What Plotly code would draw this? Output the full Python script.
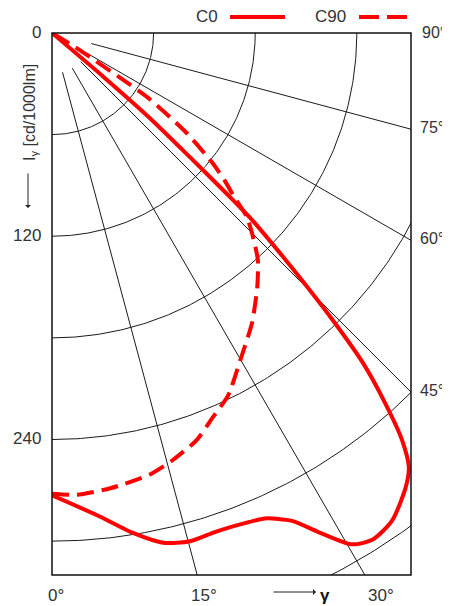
import numpy as np
import plotly.graph_objects as go

# ---- data: luminous intensity I (cd/1000lm) vs gamma (deg) ----
gamma_c0 = [0, 5.7, 9.2, 12.3, 15.2, 17.9, 19.3, 21.5, 23.7, 26.2, 28.1, 30.4, 32.3,
            34.9, 37.9, 39.4, 40.7, 42.0, 43.3, 44.3, 45.3, 46.2, 47.0, 47.4, 48.0, 49.0, 49.6, 50.0]
i_c0 = [273, 287, 299, 308, 311, 310, 310, 311, 313, 321, 334, 350, 354,
        351, 340, 332, 317, 294, 268, 239, 208, 182, 160, 140, 110, 76, 40, 0]

gamma_c90 = [0, 3.1, 7.3, 12.5, 15.8, 19.6, 22.7, 25.9, 29.9, 34.6, 38.9, 42.2, 45.0,
             46.7, 48.0, 49.5, 51.0, 53.4, 56.0, 58.6, 60.0]
i_c90 = [272, 273, 271, 267, 262, 255, 246, 238, 223, 208, 193, 181, 167,
         158, 145, 134, 122, 99, 68, 16, 0]

radii = [60, 120, 180, 240, 300, 360]
spokes = [15, 30, 45, 60, 75]
left_ticks = [0, 120, 240]
right_ticks = [90, 75, 60, 45]
bottom_ticks = [0, 15, 30]

XMAX, YMAX = 212, 320
OFF = 8  # page body margin in the browser
W, H = 450 - OFF, 606 - OFF
L, R, T, B = 52 - OFF, 411 - OFF, 33 - OFF, 575 - OFF
FONT = "Liberation Sans, Arial, sans-serif"
TXT = "#333333"


def px(x):
    return (x - OFF - L) / (R - L)


def py(y):
    return (B - (y - OFF)) / (B - T)


fig = go.Figure()

# grid arcs
for r in radii:
    t = np.radians(np.linspace(0, 90, 181))
    fig.add_trace(go.Scatter(x=r * np.sin(t), y=r * np.cos(t), mode="lines",
                             line=dict(color="#1a1a1a", width=1), hoverinfo="skip",
                             showlegend=False))
# grid spokes
for a in spokes:
    t = np.radians(a)
    rr = np.array([24, 1000])
    fig.add_trace(go.Scatter(x=rr * np.sin(t), y=rr * np.cos(t), mode="lines",
                             line=dict(color="#1a1a1a", width=1), hoverinfo="skip",
                             showlegend=False))

g0 = np.radians(gamma_c0)
fig.add_trace(go.Scatter(x=np.array(i_c0) * np.sin(g0), y=np.array(i_c0) * np.cos(g0),
                         mode="lines", name="C0",
                         line=dict(color="#ff0000", width=4, shape="spline", smoothing=0.7),
                         showlegend=False))
g9 = np.radians(gamma_c90)
fig.add_trace(go.Scatter(x=np.array(i_c90) * np.sin(g9), y=np.array(i_c90) * np.cos(g9),
                         mode="lines", name="C90",
                         line=dict(color="#ff0000", width=4, dash="17px,8px",
                                   shape="spline", smoothing=0.6),
                         showlegend=False))

ann = []
# left ticks
for v in left_ticks:
    ann.append(dict(x=0, y=v, xref="x", yref="y", text=str(v), showarrow=False,
                    xanchor="right", yanchor="middle", xshift=-9, yshift=1,
                    font=dict(size=17, color=TXT, family=FONT)))
# right ticks
for a in right_ticks:
    yy = XMAX / np.tan(np.radians(a)) if a != 90 else 0
    ann.append(dict(x=XMAX, y=yy, xref="x", yref="y", text=f"{a}°", showarrow=False,
                    xanchor="left", yanchor="middle", xshift=7 if a != 90 else 9,
                    yshift=2 if a != 90 else 1,
                    font=dict(size=16, color=TXT, family=FONT)))
# bottom ticks
bottom_px = {0: 46, 15: 189, 30: 366}
for a in bottom_ticks:
    ann.append(dict(x=px(bottom_px[a]), y=py(595), xref="paper", yref="paper",
                    text=f"{a}°", showarrow=False, xanchor="left", yanchor="middle",
                    font=dict(size=17, color=TXT, family=FONT)))
# gamma arrow
ann.append(dict(x=px(316), y=py(592), ax=-44, ay=0, xref="paper", yref="paper",
                text="", showarrow=True, arrowhead=1,
                arrowsize=1, arrowwidth=1, arrowcolor="#222"))
ann.append(dict(x=px(318), y=py(595), xref="paper", yref="paper", text="<b>γ</b>",
                showarrow=False, xanchor="left", yanchor="middle",
                font=dict(size=17, color="#111", family=FONT)))
# left axis title
ann.append(dict(x=px(30), y=py(113), xref="paper", yref="paper",
                text="I<sub>γ</sub> [cd/1000lm]", textangle=-90, showarrow=False,
                xanchor="center", yanchor="middle",
                font=dict(size=16, color=TXT, family=FONT)))
ann.append(dict(x=px(28), y=py(208), ax=0, ay=-36, xref="paper", yref="paper",
                text="", showarrow=True, arrowhead=1,
                arrowsize=1, arrowwidth=1, arrowcolor="#222"))
# legend texts
ann.append(dict(x=px(207), y=py(16), xref="paper", yref="paper", text="C0", showarrow=False,
                xanchor="center", yanchor="middle", font=dict(size=17, color=TXT, family=FONT)))
ann.append(dict(x=px(330), y=py(16), xref="paper", yref="paper", text="C90", showarrow=False,
                xanchor="center", yanchor="middle", font=dict(size=17, color=TXT, family=FONT)))

shapes = [
    dict(type="line", xref="paper", yref="paper", x0=px(230), x1=px(285), y0=py(17), y1=py(17),
         line=dict(color="#ff0000", width=4)),
    dict(type="line", xref="paper", yref="paper", x0=px(359), x1=px(408), y0=py(17), y1=py(17),
         line=dict(color="#ff0000", width=4, dash="20px,8px")),
    dict(type="rect", xref="paper", yref="paper", x0=0, x1=1, y0=0, y1=1,
         line=dict(color="#111", width=1.5)),
]

fig.update_layout(
    width=W, height=H,
    margin=dict(l=L, r=W - R, t=T, b=H - B, pad=0),
    paper_bgcolor="white", plot_bgcolor="white",
    xaxis=dict(range=[0, XMAX], showgrid=False, zeroline=False, showticklabels=False,
               ticks="", fixedrange=True),
    yaxis=dict(range=[YMAX, 0], showgrid=False, zeroline=False, showticklabels=False,
               ticks="", fixedrange=True),
    annotations=ann, shapes=shapes, showlegend=False,
)

fig.write_html("out.html")
